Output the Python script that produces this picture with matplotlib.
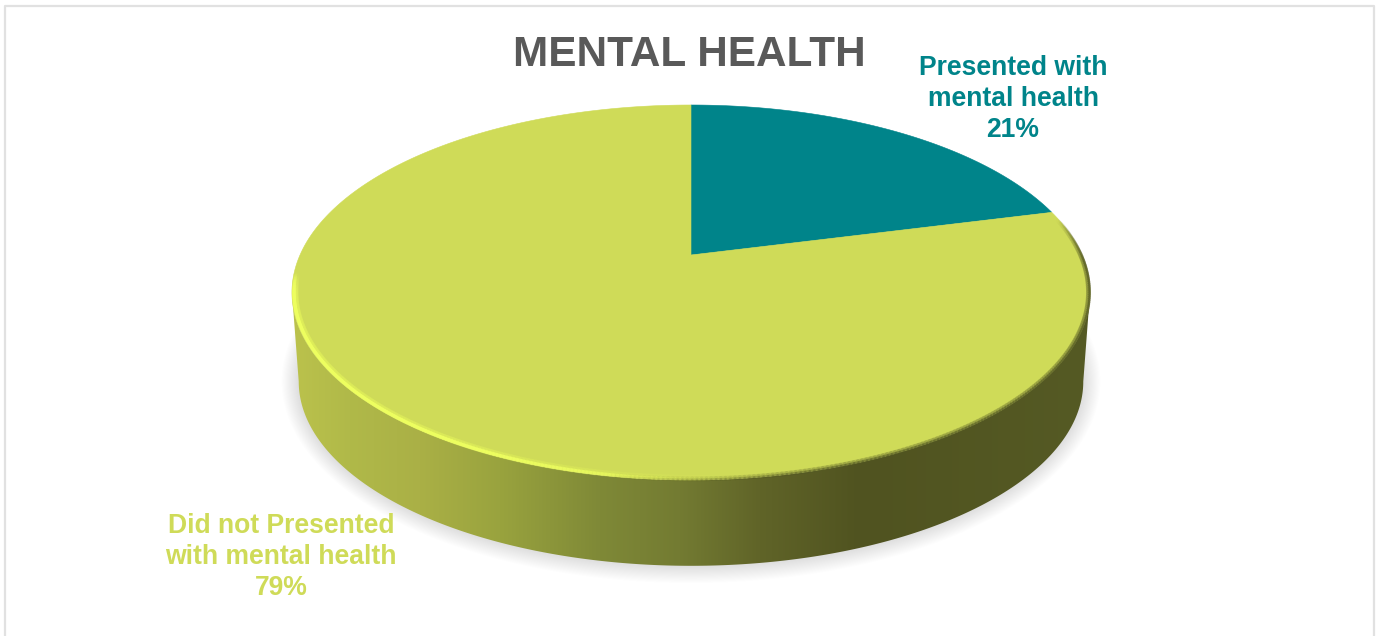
"""
mental_health_pie.py — tilted 3D-style pie of the mental health share.
"""
import numpy as np
import matplotlib
matplotlib.use('Agg')
import matplotlib.pyplot as plt
from matplotlib.collections import LineCollection
from matplotlib.colors import to_rgb
from matplotlib.patches import Polygon

plt.rcParams['font.family'] = ['Liberation Sans', 'DejaVu Sans']

TITLE = 'MENTAL HEALTH'
CATEGORIES = ['Presented with\nmental health', 'Did not Presented\nwith mental health']
SHARES = [21, 79]
COLORS = ['#00848A', '#CFDB58']
LABEL_XY = [(1013, 99), (281, 557)]

# wall shading, left to right (pixel x, colour)
WALL_X = [293, 350, 420, 500, 600, 680, 760, 860, 1091]
WALL_COLORS = ['#BBC24C', '#B0B949', '#AAB046', '#99A33E', '#7F8937',
               '#737B32', '#606428', '#505320', '#555A24']

CX, APEX_Y = 691, 255
RX, RY, TILT = 391, 180, 0.2
TOP_MID_Y, BOTTOM_MID_Y, BOTTOM_SCALE = 292.5, 381.5, 0.983
# where the rim is widest on screen, clockwise from twelve o'clock
WIDE_R, WIDE_L = 101.5, 258.5


def rim(phi, r=1.0):
    # phi runs clockwise from twelve o'clock, perspective foreshortens the front
    x, y = r * np.sin(phi), r * np.cos(phi)
    w = 1 + TILT * y
    return CX + RX * x / w, APEX_Y - RY * y / w


def base(phi):
    x, y = rim(phi)
    return CX + BOTTOM_SCALE * (x - CX), BOTTOM_MID_Y + BOTTOM_SCALE * (y - TOP_MID_Y)


def rim_lines(ax, phi0, phi1, color, lw, alpha_fn, r=1.0):
    phi = np.radians(np.linspace(phi0, phi1, 200))
    x, y = rim(phi, r)
    pts = np.column_stack([x, y])
    segs = np.stack([pts[:-1], pts[1:]], axis=1)
    t = np.linspace(0, 1, len(segs))
    rgba = np.zeros((len(segs), 4))
    rgba[:, :3] = to_rgb(color)
    rgba[:, 3] = alpha_fn(t)
    ax.add_collection(LineCollection(segs, colors=rgba, linewidths=lw,
                                     capstyle='round', zorder=5))


def main():
    fig = plt.figure(figsize=(13.77, 6.36), dpi=100)
    ax = fig.add_axes([0, 0, 1, 1])
    ax.axis('off')

    # card border, runs off the bottom edge
    ax.plot([5, 5, 1374, 1374], [640, 6, 6, 640], color='#E1E1E1', lw=1.6, zorder=1)

    # soft drop shadow under the base
    phi = np.radians(np.linspace(0, 360, 361))
    bx, by = base(phi)
    n_layers = 16
    for k in range(n_layers):
        grow = 17 * (1 - k / n_layers)
        sx = (bx - CX) * (1 + grow / 392) + CX
        sy = (by - BOTTOM_MID_Y) * (1 + grow / 183) + BOTTOM_MID_Y
        ax.add_patch(Polygon(np.column_stack([sx, sy]), closed=True, fc='#808080',
                             ec='none', alpha=0.016, zorder=2))

    # side wall with horizontal shading
    phi = np.radians(np.linspace(WIDE_R, WIDE_L, 300))
    bx, by = base(phi)
    tx, ty = rim(phi[::-1])
    wall = Polygon(np.column_stack([np.r_[bx, tx], np.r_[by, ty]]), closed=True,
                   transform=ax.transData, fc='none', ec='none')
    ax.add_patch(wall)
    xs = np.arange(WALL_X[0], WALL_X[-1] + 1)
    stops = np.array([to_rgb(c) for c in WALL_COLORS])
    shade = np.stack([np.interp(xs, WALL_X, stops[:, i]) for i in range(3)], axis=-1)
    img = ax.imshow(shade[np.newaxis, :, :], extent=(WALL_X[0], WALL_X[-1], 600, 100),
                    aspect='auto', interpolation='bilinear', zorder=3)
    img.set_clip_path(wall)

    # top face, slices clockwise from twelve o'clock
    start = 0.0
    for share, color in zip(SHARES, COLORS):
        sweep = 360 * share / sum(SHARES)
        phi = np.radians(np.linspace(start, start + sweep, 300))
        x, y = rim(phi)
        ax.fill(np.r_[CX, x], np.r_[APEX_Y, y], color=color, lw=0.4, zorder=4)
        start += sweep

    # bevel: bright lip on the front left, dark falloff on the front right
    glow = lambda t: np.clip(np.minimum(t / 0.4, (1 - t) / 0.06), 0, 1)
    rim_lines(ax, 172, WIDE_L + 6, '#E4F45C', 4.6, lambda t: 0.3 * glow(t), r=0.992)
    rim_lines(ax, 172, WIDE_L + 6, '#EEFF60', 2.4, lambda t: 0.9 * glow(t), r=0.995)
    fade = lambda t: np.clip(np.minimum(t / 0.12, (1 - t) / 0.25), 0, 1)
    rim_lines(ax, 78, 190, '#555A24', 3.4, lambda t: 0.22 * fade(t), r=0.996)
    rim_lines(ax, 78, 190, '#555A24', 1.8, lambda t: 0.45 * fade(t), r=0.999)

    ax.text(689, 55, TITLE, color='#595959', fontsize=30.4, fontweight='bold',
            ha='center', va='center', zorder=6)
    for cat, share, color, (lx, ly) in zip(CATEGORIES, SHARES, COLORS, LABEL_XY):
        ax.text(lx, ly, f'{cat}\n{share}%', color=color, fontsize=19.1, fontweight='bold',
                ha='center', va='center', linespacing=1.27, zorder=6)

    ax.set_xlim(0, 1377)
    ax.set_ylim(636, 0)
    fig.savefig('out.png', dpi=100, facecolor='white')


if __name__ == '__main__':
    main()
